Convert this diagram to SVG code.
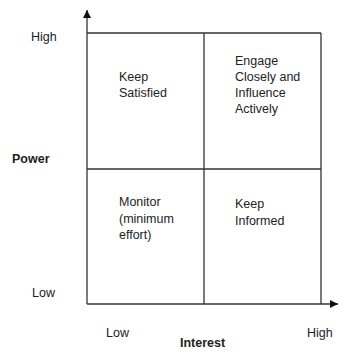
<svg xmlns="http://www.w3.org/2000/svg" width="338" height="352" viewBox="0 0 338 352">
<style>
text{font-family:"Liberation Sans",Arial,sans-serif;font-size:12.5px;fill:#222}
.b{font-weight:bold;font-size:12.5px}
.ln{stroke:#333;stroke-width:1.3;fill:none}
</style>
<defs>
<marker id="ah" viewBox="0 0 10 10" refX="10" refY="5" markerWidth="8" markerHeight="9" markerUnits="userSpaceOnUse" orient="auto">
<path d="M0,0 L10,5 L0,10 Z" fill="#111"/>
</marker>
</defs>
<rect width="338" height="352" fill="#fff"/>
<g id="connectors">
<line class="ln" x1="87" y1="304" x2="87" y2="10" marker-end="url(#ah)"/>
<line class="ln" x1="87" y1="304" x2="338" y2="304" marker-end="url(#ah)"/>
</g>
<g id="grid">
<line class="ln" x1="87" y1="33" x2="321" y2="33"/>
<line class="ln" x1="321" y1="33" x2="321" y2="304"/>
<line class="ln" x1="204" y1="33" x2="204" y2="304"/>
<line class="ln" x1="87" y1="169" x2="321" y2="169"/>
</g>
<g id="q-keep-satisfied">
<text x="119" y="81">Keep</text>
<text x="119" y="97">Satisfied</text>
</g>
<g id="q-engage">
<text x="235" y="65">Engage</text>
<text x="235" y="81">Closely and</text>
<text x="235" y="97">Influence</text>
<text x="235" y="113">Actively</text>
</g>
<g id="q-monitor">
<text x="119" y="206">Monitor</text>
<text x="119" y="222.5">(minimum</text>
<text x="119" y="239">effort)</text>
</g>
<g id="q-keep-informed">
<text x="235" y="208">Keep</text>
<text x="235" y="225">Informed</text>
</g>
<g id="power-axis">
<text x="31" y="41">High</text>
<text class="b" x="12" y="163">Power</text>
<text x="32" y="297">Low</text>
</g>
<g id="interest-axis">
<text x="106" y="337">Low</text>
<text class="b" x="180" y="347">Interest</text>
<text x="307" y="337">High</text>
</g>
</svg>
